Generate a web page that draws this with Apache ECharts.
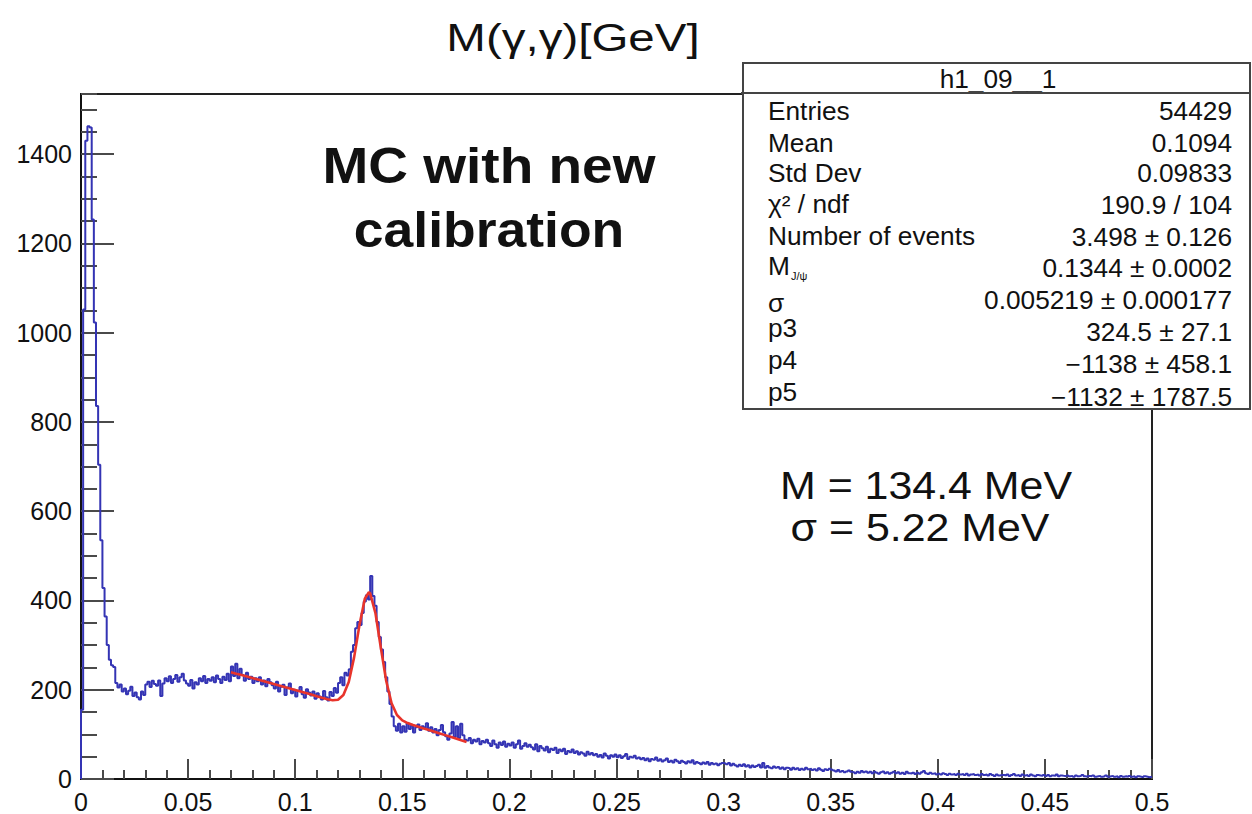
<!DOCTYPE html>
<html>
<head>
<meta charset="utf-8">
<script src="https://cdn.jsdelivr.net/npm/echarts@6/dist/echarts.min.js"></script>
<style>
html,body{margin:0;padding:0;background:#fff;}
#chart{width:1252px;height:814px;}
</style>
</head>
<body>
<div id="chart"></div>
<script>
// ---- data (bin width 0.001 GeV, 500 bins from 0 to 0.5) ----
var binWidth = 0.001;
var counts000 = [155,1052,1430,1463,1460,1254,1023,836,704,535,428,364,300,267,255,251,215,205,212,196,
 203,190,198,207,186,194,183,178,196,188, 212,218,206,220,213,209,221,186,214,226,
 219,230,215,224,233,218,228,236,221,214, 209,222,203,217,212,226,219,231,215,224,
 220,228,217,232,224,215,229,222,236,219, 252,231,258,226,247,233,220,238,224,229,
 215,226,219,228,212,221,208,224,217,210, 203,218,196,207,211,188,205,214,192,200];
var counts100 = [185,198,206,190,182,201,194,187,196,180, 192,185,178,197,183,176,195,186,204,193,
 215,228,210,238,232,246,285,300,338,352, 345,372,398,412,402,455,410,388,352,318,
 290,262,228,196,168,140,118,108,124,104, 118,106,125,112,120,104,116,122,110,118,
 114,125,108,116,104,112,98,110,121,105, 96,88,102,128,94,118,92,124,98,88,
 86,92,80,88,84,90,78,85,82,88, 80,74,86,78,70,82,76,84,72,79];
var counts200 = [75,82,70,78,86,68,74,80,72,77, 71,66,78,62,74,69,64,72,60,68,
 65,70,58,66,62,68,56,63,60,66, 58,62,55,60,57,52,61,55,58,53,
 56,50,54,48,57,52,46,53,50,55, 49,53,47,51,56,45,50,48,52,46,
 48,44,47,42,46,40,45,43,48,41, 44,39,42,46,38,41,37,43,40,36,
 41,38,35,40,37,42,34,38,36,33, 37,34,38,32,36,33,35,31,34,36];
var counts300 = [35,33,36,30,34,31,28,32,29,33, 28,31,26,30,27,29,32,26,36,25,
 29,26,24,28,25,27,23,26,22,25, 24,21,25,22,24,20,23,21,25,22,
 23,20,22,19,24,21,18,22,20,23, 21,19,17,20,16,18,15,17,19,16,
 15,13,16,14,18,15,17,14,16,13, 16,14,12,15,17,13,15,12,14,16,
 13,15,12,14,11,16,13,12,14,11, 14,12,15,18,13,11,14,12,13,10];
var counts400 = [12,10,13,11,9,12,10,11,9,12, 10,11,9,12,8,10,11,9,10,8,
 11,9,10,8,11,9,7,10,8,9, 9,8,10,7,9,11,8,9,7,10,
 8,9,7,10,8,6,9,8,7,9, 7,9,6,8,7,10,6,8,7,6,
 8,6,7,5,8,6,7,9,6,5, 7,6,8,5,6,7,5,6,8,5,
 6,7,5,6,4,7,5,6,5,7, 5,6,4,6,5,4,6,5,4,5];

// fit curve
var fitX = [0.07,0.0725,0.075,0.0775,0.08,0.0825,0.085,0.0875,0.09,0.0925,0.095,0.0975,0.1,0.1025,0.105,0.1075,0.11,0.1125,0.115,0.1175,0.12,0.1225,0.125,0.1275,0.13,0.1325,0.1344,0.135,0.1375,0.14,0.1425,0.145,0.1475,0.15,0.1525,0.155,0.1575,0.16,0.1625,0.165,0.1675,0.17,0.1725,0.175,0.1775,0.18];
var fitY = [239.3,236.0,232.8,229.5,226.2,222.9,219.6,216.3,212.9,209.5,206.2,202.8,199.4,196.0,192.5,189.1,185.6,182.1,178.9,176.6,177.6,188.0,217.4,272.6,344.8,404.0,418.5,415.8,370.8,293.4,219.5,169.7,143.5,131.4,125.3,121.0,117.2,113.4,109.7,105.9,102.1,98.3,94.5,90.7,86.8,83.0];

var xTicksMajor = 0.05, xTicksMinor = 0.01, yTicksMajor = 200, yTicksMinor = 50;
var xMin = 0, xMax = 0.5, yMin = 0, yMax = 1535;

var titleText = 'M(\u03b3,\u03b3)[GeV]';
var statsTitle = 'h1_09__1';
var statsLabels = ['Entries','Mean','Std Dev','\u03c7\u00b2 / ndf','Number of events','M','\u03c3','p3','p4','p5'];
var statsValues = ['54429','0.1094','0.09833','190.9 / 104','3.498 \u00b1 0.126','0.1344 \u00b1 0.0002','0.005219 \u00b1 0.000177','324.5 \u00b1 27.1','\u22121138 \u00b1 458.1','\u22121132 \u00b1 1787.5'];
var annot1 = ['MC with new','calibration'];
var annot2 = ['M = 134.4 MeV','\u03c3 = 5.22 MeV'];

// ---- build ----
var counts = counts000.concat(counts100, counts200, counts300, counts400);
var histData = [[0, 0]];
for (var i = 0; i < counts.length; i++) histData.push([i * binWidth, counts[i]]);
histData.push([counts.length * binWidth, counts[counts.length - 1]]);
var fitData = fitX.map(function (x, k) { return [x, fitY[k]]; });

var FF = '"Liberation Sans", Arial, Helvetica, sans-serif';
var chart = echarts.init(document.getElementById('chart'), null, {renderer: 'svg'});

var graphics = [];
function txt(x, y, s, size, align, weight, sx) {
  graphics.push({type: 'text', x: x, y: y, z: 100, scaleX: sx || 1,
    style: {text: s, x: 0, y: 0, fill: '#111', font: (weight || 'normal') + ' ' + size + 'px ' + FF,
      textAlign: align || 'center', textVerticalAlign: 'middle'}});
}
txt(573, 38, titleText, 38, 'center', 'normal', 1.25);
txt(489, 165, annot1[0], 50, 'center', 'bold', 1.1);
txt(489, 230, annot1[1], 50, 'center', 'bold', 1.07);
txt(926, 486, annot2[0], 39, 'center', 'normal', 1.1);
txt(920, 528, annot2[1], 39, 'center', 'normal', 1.1);

graphics.push({type: 'rect', z: 100, shape: {x: 743, y: 63, width: 507, height: 346},
  style: {fill: '#fff', stroke: '#444', lineWidth: 2}});
graphics.push({type: 'line', z: 101, shape: {x1: 741, y1: 93, x2: 1250, y2: 93},
  style: {stroke: '#444', lineWidth: 2}});
txt(998, 79, statsTitle, 25, 'center', 'normal', 1.05);
var labelY = [111, 143, 173, 204, 236, 266, 303, 328, 360, 392];
var valueY = [111, 143, 173, 205, 237, 268, 300, 332, 364, 397];
for (var r = 0; r < statsLabels.length; r++) {
  txt(768, labelY[r], statsLabels[r], 25, 'left', 'normal', 1.05);
  txt(1232, valueY[r], statsValues[r], 25, 'right', 'normal', 1.05);
}
graphics.push({type: 'text', x: 791, y: 276, z: 100,
  style: {text: 'J/\u03c8', fill: '#111', font: '11px ' + FF, textAlign: 'left', textVerticalAlign: 'middle'}});

var tickColor = '#4a4a4a';
chart.setOption({
  animation: false,
  backgroundColor: '#fff',
  grid: {left: 81, right: 100, top: 94, bottom: 35, show: true, borderColor: '#222', borderWidth: 2, backgroundColor: 'transparent'},
  xAxis: [
    {type: 'value', min: xMin, max: xMax, interval: xTicksMajor, position: 'bottom',
     axisLine: {show: true, lineStyle: {color: '#111', width: 2}},
     axisTick: {show: true, inside: true, length: 20, lineStyle: {color: tickColor, width: 2}},
     axisLabel: {show: true, margin: 10, fontSize: 25, color: '#111', fontFamily: FF,
       formatter: function (v) { return String(+v.toFixed(3)); }},
     splitLine: {show: false}},
    {type: 'value', min: xMin, max: xMax, interval: xTicksMinor, position: 'bottom',
     axisLine: {show: false},
     axisTick: {show: true, inside: true, length: 9, lineStyle: {color: tickColor, width: 2}},
     axisLabel: {show: false}, splitLine: {show: false}}
  ],
  yAxis: [
    {type: 'value', min: yMin, max: yMax, interval: yTicksMajor, position: 'left',
     axisLine: {show: true, lineStyle: {color: '#111', width: 2}},
     axisTick: {show: true, inside: true, length: 33, lineStyle: {color: tickColor, width: 2}},
     axisLabel: {show: true, margin: 9, fontSize: 25, color: '#111', fontFamily: FF, showMaxLabel: false,
       formatter: function (v) { return String(v); }},
     splitLine: {show: false}},
    {type: 'value', min: yMin, max: yMax, interval: yTicksMinor, position: 'left',
     axisLine: {show: false},
     axisTick: {show: true, inside: true, length: 16, lineStyle: {color: tickColor, width: 2}},
     axisLabel: {show: false}, splitLine: {show: false}}
  ],
  series: [
    {type: 'line', xAxisIndex: 0, yAxisIndex: 0, step: 'end', data: histData, showSymbol: false,
     lineStyle: {color: '#3434b4', width: 2}, z: 5},
    {type: 'line', xAxisIndex: 0, yAxisIndex: 0, data: fitData, showSymbol: false,
     lineStyle: {color: '#e8342b', width: 2.6}, z: 6}
  ],
  graphic: graphics
});
</script>
</body>
</html>
